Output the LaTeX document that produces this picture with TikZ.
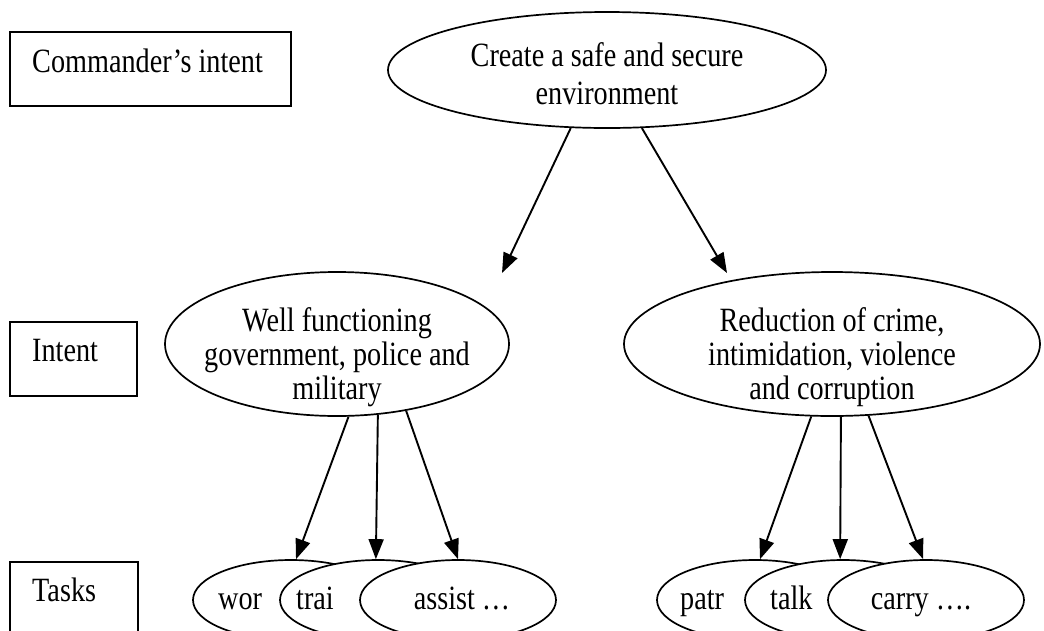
\documentclass[tikz,border=0pt]{standalone}
\usepackage{fontspec}
\setmainfont[FakeStretch=0.83]{Liberation Serif}
\usetikzlibrary{shapes.geometric,arrows.meta}
\begin{document}
\begin{tikzpicture}[x=1pt,y=-1pt,
  every node/.style={font=\fontsize{34}{38}\selectfont},
  box/.style={draw, rectangle, line width=1.7pt, inner sep=0pt},
  oval/.style={draw, ellipse, line width=1.7pt, inner sep=0pt, fill=white},
  lbl/.style={inner sep=0pt, align=center},
  tight/.style={font=\fontsize{34}{34}\selectfont},
  arr/.style={line width=1.9pt, -{Triangle[length=20pt,width=15pt]}}]
\clip (0,0) rectangle (1044,630);

% level labels on the left
\node[box, minimum width=281pt, minimum height=74pt] (cmdbox) at (150.5,69) {};
\node[lbl, anchor=base west] (cmdtxt) at (32,72) {Commander’s intent};
\node[box, minimum width=127pt, minimum height=74pt] (intbox) at (73.5,359) {};
\node[lbl, anchor=base west] (inttxt) at (32,361) {Intent};
\node[box, minimum width=128pt, minimum height=90pt] (taskbox) at (74,607) {};
\node[lbl, anchor=base west] (tasktxt) at (32,601) {Tasks};

% overall goal
\node[oval, minimum width=438pt, minimum height=116pt] (goal) at (607,70) {};
\node[lbl] (goaltxt) at (607,74) {Create a safe and secure\\environment};

% intents
\node[oval, minimum width=344pt, minimum height=144pt] (gov) at (337,344) {};
\node[lbl, tight] (govtxt) at (337,357) {Well functioning\\government, police and\\military};
\node[oval, minimum width=416pt, minimum height=144pt] (crime) at (832,344) {};
\node[lbl, tight] (crimetxt) at (832,357) {Reduction of crime,\\intimidation, violence\\and corruption};

% tasks, each one partly covering the previous
\node[oval, minimum width=196pt, minimum height=80pt] (t1) at (291,600) {};
\node[lbl, anchor=base west] (t1txt) at (218,609) {wor};
\node[oval, minimum width=196pt, minimum height=80pt] (t2) at (378,600) {};
\node[lbl, anchor=base west] (t2txt) at (296,609) {trai};
\node[oval, minimum width=196pt, minimum height=80pt] (t3) at (458,600) {};
\node[lbl, anchor=base] (t3txt) at (462,609) {assist …};

\node[oval, minimum width=196pt, minimum height=80pt] (t4) at (755,600) {};
\node[lbl, anchor=base west] (t4txt) at (680,609) {patr};
\node[oval, minimum width=196pt, minimum height=80pt] (t5) at (843,600) {};
\node[lbl, anchor=base west] (t5txt) at (770,609) {talk};
\node[oval, minimum width=196pt, minimum height=80pt] (t6) at (926,600) {};
\node[lbl, anchor=base] (t6txt) at (921,609) {carry ….};

% arrows
\coordinate (govtip) at (502,273);
\coordinate (crimetip) at (727,273);
\draw[arr] (goal.-122.3) -- (govtip);
\draw[arr] (goal.-59.2) -- (crimetip);

\draw[arr] (gov.-81.3) -- (t1.83);
\draw[arr] (gov.-60.9) -- (t2.93);
\draw[arr] (gov.-44.7) -- (t3.north);
\draw[arr] (crime.-106.3) -- (t4.83);
\draw[arr] (crime.-83.7) -- (t5.94);
\draw[arr] (crime.-63.1) -- (t6.94);
\end{tikzpicture}
\end{document}
